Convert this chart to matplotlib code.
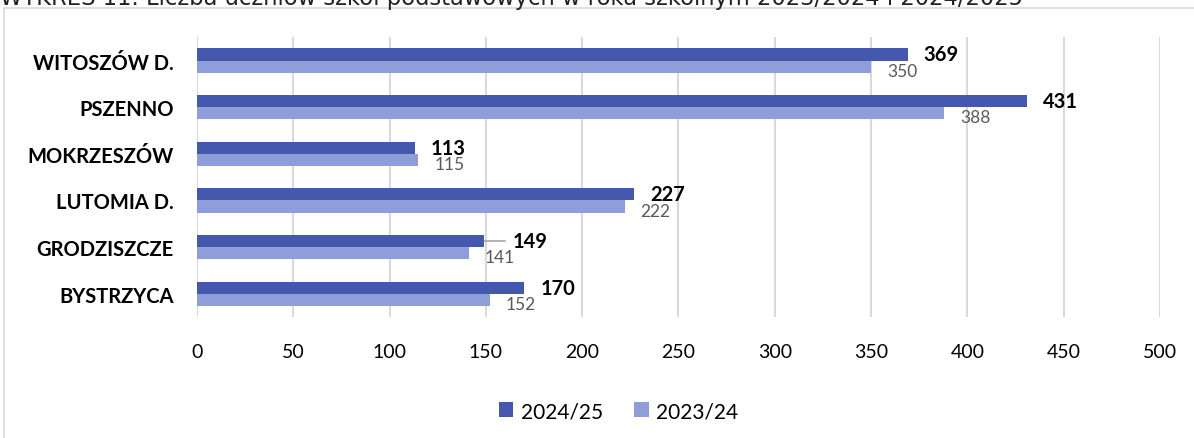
import matplotlib
matplotlib.use('Agg')
import matplotlib.pyplot as plt
from matplotlib.patches import Rectangle
import numpy as np

# data
categories = ['WITOSZÓW D.', 'PSZENNO', 'MOKRZESZÓW', 'LUTOMIA D.', 'GRODZISZCZE', 'BYSTRZYCA']
vals_2425 = [369, 431, 113, 227, 149, 170]
vals_2324 = [350, 388, 115, 222, 141, 152]
series_names = ['2024/25', '2023/24']
xticks = [0, 50, 100, 150, 200, 250, 300, 350, 400, 450, 500]
title = 'WYKRES 11. Liczba uczniów szkół podstawowych w roku szkolnym 2023/2024 i 2024/2025'

dark = '#4459AE'
light = '#8F9DD8'
plt.rcParams['font.family'] = ['Lato', 'DejaVu Sans']

fig = plt.figure(figsize=(11.94, 4.39), dpi=100)
ax = fig.add_axes([0.165, 0.2756, 0.9715 - 0.165, 0.913 - 0.2756])

# chart frame, partly cut by the page (title is cut at the top in the source too)
fig.patches.append(Rectangle((4 / 1194, -0.1), 1.2, 1 - 9 / 439 + 0.1, transform=fig.transFigure,
                             fill=False, edgecolor='#D9D9D9', linewidth=1.2))
fig.text(0.0, 1 - 5.5 / 439, title, fontsize=16.3, family=['DejaVu Sans'], va='baseline', ha='left',
         color='#222222')

y = np.arange(len(categories))
h = 0.26
b1 = ax.barh(y - h / 2, vals_2425, height=h, color=dark, label=series_names[0], zorder=3)
b2 = ax.barh(y + h / 2, vals_2324, height=h, color=light, label=series_names[1], zorder=3)

for i in range(len(categories)):
    if categories[i] == 'GRODZISZCZE':
        # moved label with leader line
        ax.plot([vals_2425[i], 160], [y[i] - h / 2, y[i] - h / 2], color='#A6A6A6', lw=1.2, zorder=2)
        ax.annotate(str(vals_2425[i]), (164, y[i] - h / 2), xytext=(0, 1.5), textcoords='offset points',
                    fontsize=14.5, fontweight='bold', va='center_baseline', ha='left', color='black')
    else:
        ax.annotate(str(vals_2425[i]), (vals_2425[i], y[i] - h / 2), xytext=(11.5, 1.5),
                    textcoords='offset points', fontsize=14.5, fontweight='bold',
                    va='center_baseline', ha='left')
    ax.annotate(str(vals_2324[i]), (vals_2324[i], y[i] + h / 2), xytext=(11.5, -2),
                textcoords='offset points', fontsize=12.5, color='#595959', va='center_baseline', ha='left')

ax.set_xlim(0, 500)
ax.set_ylim(len(categories) - 0.5, -0.5)
ax.set_xticks(xticks)
ax.set_yticks(y)
ax.set_yticklabels(categories, fontsize=14.5, fontweight='bold')
ax.tick_params(axis='x', length=0, labelsize=14, pad=19)
ax.tick_params(axis='y', length=0, pad=17)
ax.grid(axis='x', color='#D9D9D9', linewidth=1.5, zorder=0)
for s in ax.spines.values():
    s.set_visible(False)

fig.legend(handles=[b1, b2], loc='center', bbox_to_anchor=(0.518, 0.0615), ncol=2, frameon=False,
           fontsize=15, handlelength=0.7, handleheight=0.7, handletextpad=0.35, columnspacing=1.5)

plt.savefig('out.png', dpi=100)
